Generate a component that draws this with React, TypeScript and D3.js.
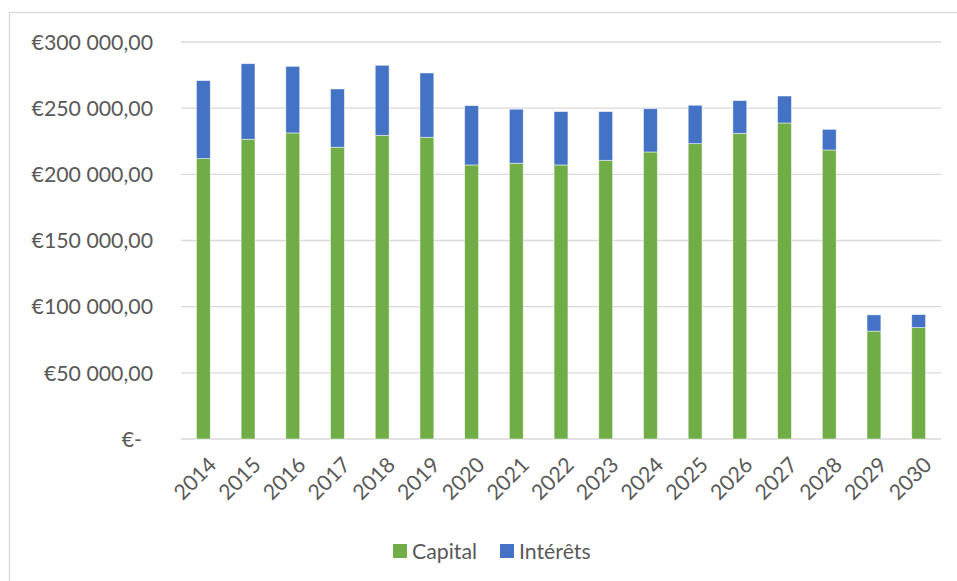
import * as d3 from "d3";

const years = ["2014", "2015", "2016", "2017", "2018", "2019", "2020", "2021", "2022", "2023", "2024", "2025", "2026", "2027", "2028", "2029", "2030"];
const capital = [211900, 226500, 231300, 220500, 229500, 228000, 207100, 208400, 207100, 210600, 216900, 223200, 231000, 238800, 218400, 81500, 84200];
const interets = [58900, 57100, 50300, 44000, 52900, 48600, 44800, 40800, 40300, 36800, 32700, 29000, 24700, 20400, 15600, 12300, 9800];
const yTicks = [0, 50000, 100000, 150000, 200000, 250000, 300000];
const seriesNames = ["Capital", "Intérêts"];
const colors = ["#70AD47", "#4472C4"];

const W = 957;
const H = 581;
const M = { top: 42, left: 181, right: 16, bottom: 142 };
const FONT = "Lato, 'Open Sans', sans-serif";
const FS = 21.3;

const fmt = (v: number) =>
  v === 0
    ? "€-"
    : "€" + d3.format(",.2f")(v).replace(/,/g, " ").replace(/\.(\d\d)$/, ",$1");

export default function App() {
  const innerW = W - M.left - M.right;
  const innerH = H - M.top - M.bottom;

  const x = d3.scaleBand().domain(years).range([0, innerW]).paddingInner(0.69).paddingOuter(0.345);
  const y = d3.scaleLinear().domain([0, 300000]).range([innerH, 0]);

  const rows = years.map((yr, i) => ({ year: yr, capital: capital[i], interets: interets[i] }));
  const stacked = d3.stack<any>().keys(["capital", "interets"])(rows);

  return (
    <svg width={W} height={H} style={{ position: "absolute", left: 0, top: 0 }}>
      <rect x={0} y={0} width={W} height={H} fill="#fff" />
      <rect x={9.5} y={12.5} width={W + 10} height={H + 10} fill="#fff" stroke="#d9d9d9" strokeWidth={1.3} />
      <g transform={`translate(${M.left},${M.top})`}>
        {yTicks.map((t) => (
          <g key={t}>
            <line x1={0} x2={innerW} y1={y(t)} y2={y(t)} stroke="#d9d9d9" strokeWidth={1.4} />
            <text
              x={t === 0 ? -39 : -28}
              y={y(t)}
              dy="0.36em"
              textAnchor="end"
              fontFamily={FONT}
              fontSize={FS}
              fill="#595959"
            >
              {fmt(t)}
            </text>
          </g>
        ))}
        {stacked.map((s, si) => (
          <g key={s.key} fill={colors[si]}>
            {s.map((d, i) => (
              <rect
                key={i}
                x={x(years[i])}
                y={y(d[1])}
                width={x.bandwidth()}
                height={y(d[0]) - y(d[1])}
                stroke="#ffffff"
                strokeOpacity={0.6}
                strokeWidth={0.8}
              />
            ))}
          </g>
        ))}
        {years.map((yr) => (
          <text
            key={yr}
            transform={`translate(${(x(yr) ?? 0) + x.bandwidth() / 2 + 9},${innerH + 22}) rotate(-45)`}
            textAnchor="end"
            dy="0.35em"
            fontFamily={FONT}
            fontSize={FS}
            fill="#595959"
          >
            {yr}
          </text>
        ))}
      </g>
      <g transform="translate(393,544)">
        {seriesNames.map((n, i) => (
          <g key={n} transform={`translate(${i * 107},0)`}>
            <rect width={14} height={14} fill={colors[i]} />
            <text x={19} y={7} dy="0.36em" fontFamily={FONT} fontSize={FS} fill="#595959">
              {n}
            </text>
          </g>
        ))}
      </g>
    </svg>
  );
}
